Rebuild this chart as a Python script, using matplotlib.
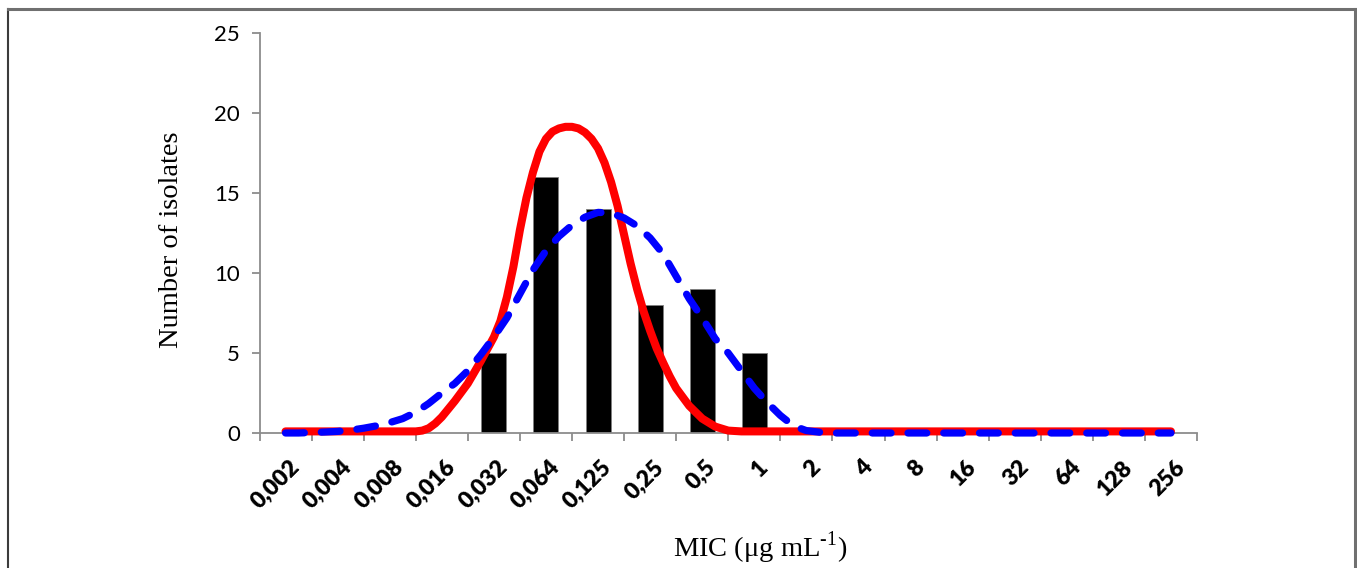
import numpy as np
import matplotlib
matplotlib.use("Agg")
import matplotlib.pyplot as plt
from matplotlib.lines import Line2D
import matplotlib.transforms as mtransforms

# ---------------- data ----------------
categories = ["0,002", "0,004", "0,008", "0,016", "0,032", "0,064", "0,125", "0,25",
              "0,5", "1", "2", "4", "8", "16", "32", "64", "128", "256"]
isolates = [0, 0, 0, 0, 5, 16, 14, 8, 9, 5, 0, 0, 0, 0, 0, 0, 0, 0]

# fitted curves (positions in category units, values in isolates)
red_pos = [0, 2.5, 2.625, 2.75, 2.875, 3.0, 3.25, 3.5, 3.75,
           4.0, 4.125, 4.25, 4.375, 4.5, 4.625, 4.75, 4.875,
           5.0, 5.125, 5.25, 5.375, 5.5, 5.625, 5.75, 5.875,
           6.0, 6.125, 6.25, 6.375, 6.5, 6.625, 6.75, 6.875,
           7.0, 7.125, 7.25, 7.375, 7.5, 7.75, 8.0, 8.25, 8.5, 8.75, 17]
red_curve = [0.1, 0.1, 0.15, 0.3, 0.6, 1.0, 2.0, 3.1, 4.5,
             6.0, 7.0, 8.5, 10.4, 12.7, 14.7, 16.3, 17.6,
             18.4, 18.85, 19.05, 19.15, 19.15, 19.05, 18.8, 18.4,
             17.8, 16.9, 15.7, 14.2, 12.4, 10.6, 9.0, 7.6,
             6.4, 5.3, 4.4, 3.55, 2.8, 1.7, 0.9, 0.4, 0.15, 0.1, 0.1]

blue_pos = [0, 0.25, 0.5, 0.75, 1.0, 1.25, 1.5, 1.75, 2.0, 2.25,
            2.5, 2.75, 3.0, 3.25, 3.5, 3.75, 4.0, 4.25, 4.5, 4.75,
            5.0, 5.25, 5.5, 5.75, 6.0, 6.25, 6.5, 6.75, 7.0, 7.25,
            7.5, 7.75, 8.0, 8.25, 8.5, 8.75, 9.0, 9.25, 9.5, 9.75,
            10.0, 10.25, 10.5, 17]
blue_curve = [0.0, 0.0, 0.03, 0.06, 0.1, 0.18, 0.3, 0.45, 0.65, 0.9,
              1.3, 1.85, 2.5, 3.1, 3.9, 4.9, 6.0, 7.2, 8.7, 10.2,
              11.4, 12.3, 13.0, 13.5, 13.8, 13.75, 13.45, 12.95, 12.2, 11.2,
              9.8, 8.4, 7.2, 5.9, 5.0, 3.9, 2.8, 1.9, 1.1, 0.45,
              0.15, 0.05, 0.0, 0.0]
y_ticks = [0, 5, 10, 15, 20, 25]

# ---------------- figure ----------------
W, H = 1357, 568
fig = plt.figure(figsize=(W / 100, H / 100), dpi=100)
fig.patch.set_facecolor("white")

ax = fig.add_axes([259.5 / W, 1 - 433 / H, (1197 - 259.5) / W, (433 - 33.3) / H])
x = np.arange(len(categories))

ax.bar(x, isolates, width=0.48, color="black", edgecolor="#7f7f7f", linewidth=0.6, zorder=2)
ax.plot(red_pos, red_curve, color="#ff0000", lw=5.8, solid_capstyle="round",
        solid_joinstyle="round", zorder=3, clip_on=False)
ax.plot(blue_pos, blue_curve, color="#0000ff", lw=5.2, dash_capstyle="round",
        dashes=(2.6, 2.35), zorder=4, clip_on=False)

ax.set_xlim(-0.5, len(categories) - 0.5)
ax.set_ylim(0, 25)

for s in ["top", "right"]:
    ax.spines[s].set_visible(False)
for s in ["left", "bottom"]:
    ax.spines[s].set_color("#8c8c8c")
    ax.spines[s].set_linewidth(1.3)

ax.set_yticks(y_ticks)
ax.set_yticklabels([str(v) for v in y_ticks], fontfamily="Lato", fontsize=16)
ax.tick_params(axis="y", length=6, width=1.3, color="#8c8c8c", pad=8)

ax.set_xticks(np.arange(-0.5, len(categories), 1.0))
ax.set_xticklabels([])
ax.tick_params(axis="x", which="major", length=6, width=1.3, color="#8c8c8c")
ax.set_xticks(x, minor=True)
ax.set_xticklabels(categories, minor=True, rotation=45, ha="right", va="top",
                   rotation_mode="anchor", fontfamily="Lato", fontweight="heavy", fontsize=16.5)
ax.tick_params(axis="x", which="minor", length=0, pad=17)
offset = mtransforms.ScaledTranslation(3 / 100, 0, fig.dpi_scale_trans)
for lab in ax.get_xticklabels(minor=True):
    lab.set_transform(lab.get_transform() + offset)

fig.text(172 / W, 1 - 240 / H, "Number of isolates", rotation=90, ha="center", va="center",
         fontfamily="Liberation Serif", fontsize=20.5)
fig.text(760 / W, 1 - 548 / H, "MIC (μg mL$^{\\mathregular{\u2010}\\mathregular{1}}$)", ha="center", va="center",
         fontfamily="Liberation Serif", fontsize=20.5)

# outer frame
fig.add_artist(Line2D([7.5 / W, 7.5 / W], [0, 1 - 9 / H], color="#3c3c3c", lw=1.5, transform=fig.transFigure))
fig.add_artist(Line2D([7.5 / W, 1355 / W], [1 - 9 / H, 1 - 9 / H], color="#707070", lw=2.2, transform=fig.transFigure))
fig.add_artist(Line2D([1355 / W, 1355 / W], [0, 1 - 9 / H], color="#707070", lw=2.2, transform=fig.transFigure))

fig.savefig("out.png", dpi=100)
